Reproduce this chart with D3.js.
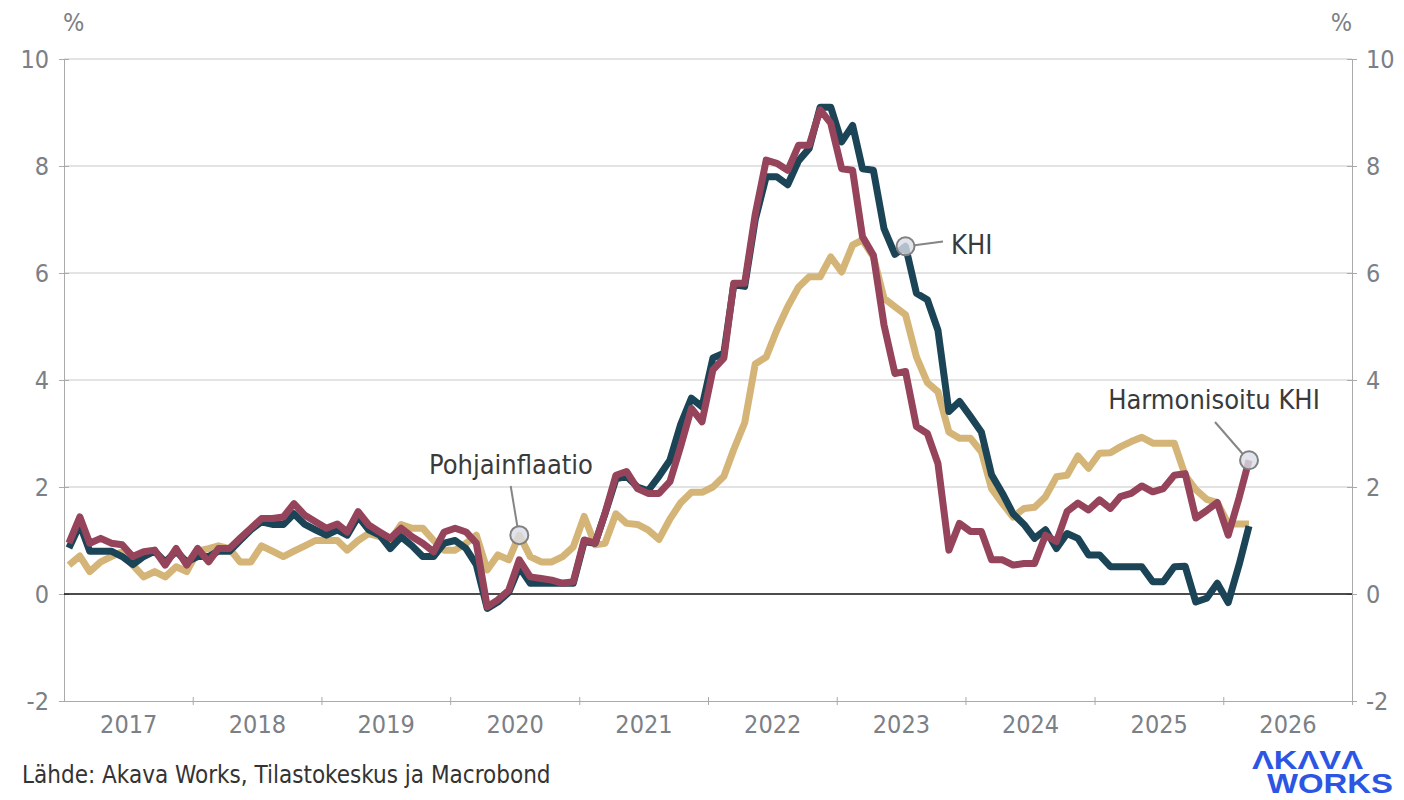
<!DOCTYPE html>
<meta charset="utf-8">
<script src="https://d3js.org/d3.v7.min.js"></script>
<style>
  body { margin: 0; background: #fff; }
  text { font-family: "DejaVu Sans Condensed", "DejaVu Sans", sans-serif; font-stretch: condensed; }
</style>
<div id="chart"></div>
<script>

// monthly series, Jan 2017 ... Mar 2026 (annual change, %)
const khi = [
  0.86, 1.3, 0.8, 0.8, 0.8, 0.7, 0.55, 0.7, 0.8, 0.6, 0.8, 0.6,
  0.7, 0.7, 0.8, 0.8, 1.0, 1.2, 1.35, 1.3, 1.3, 1.5, 1.3, 1.2,
  1.1, 1.2, 1.1, 1.45, 1.2, 1.1, 0.85, 1.07, 0.9, 0.7, 0.7, 0.95,
  1.0, 0.85, 0.55, -0.27, -0.15, 0.03, 0.5, 0.2, 0.2, 0.2, 0.2, 0.2,
  0.98, 0.95, 1.5, 2.15, 2.2, 2.0, 1.93, 2.2, 2.5, 3.16, 3.66, 3.5,
  4.41, 4.5, 5.78, 5.75, 7.0, 7.8, 7.8, 7.65, 8.1, 8.33, 9.1, 9.1,
  8.45, 8.76, 7.95, 7.92, 6.83, 6.35, 6.5, 5.62, 5.5, 4.93, 3.41, 3.6,
  3.32, 3.03, 2.23, 1.88, 1.5, 1.3, 1.04, 1.2, 0.85, 1.13, 1.04, 0.73,
  0.73, 0.51, 0.51, 0.51, 0.51, 0.23, 0.23, 0.51, 0.52, -0.15, -0.08, 0.2,
  -0.16, 0.55, 1.27
];
const hicp = [
  0.95, 1.44, 0.95, 1.04, 0.95, 0.92, 0.7, 0.79, 0.82, 0.54, 0.85, 0.54,
  0.85, 0.6, 0.85, 0.85, 1.04, 1.23, 1.41, 1.41, 1.44, 1.69, 1.47, 1.35,
  1.23, 1.31, 1.16, 1.54, 1.29, 1.16, 1.04, 1.23, 1.07, 0.95, 0.79, 1.16,
  1.23, 1.16, 0.95, -0.24, -0.11, 0.07, 0.64, 0.32, 0.29, 0.26, 0.2, 0.23,
  1.01, 0.95, 1.51, 2.22, 2.29, 1.97, 1.88, 1.88, 2.1, 2.75, 3.47, 3.22,
  4.19, 4.41, 5.81, 5.81, 7.1, 8.11, 8.05, 7.92, 8.39, 8.39, 9.05, 8.8,
  7.95, 7.92, 6.68, 6.33, 5.03, 4.12, 4.16, 3.13, 3.0, 2.44, 0.82, 1.32,
  1.17, 1.17, 0.64, 0.64, 0.54, 0.57, 0.57, 1.1, 0.98, 1.54, 1.7, 1.57,
  1.76, 1.6, 1.82, 1.88, 2.02, 1.91, 1.97, 2.22, 2.25, 1.42, 1.56, 1.71,
  1.1, 1.8, 2.5
];
const core = [
  0.54, 0.71, 0.42, 0.6, 0.7, 0.79, 0.54, 0.32, 0.42, 0.32, 0.51, 0.42,
  0.8, 0.85, 0.9, 0.85, 0.6, 0.6, 0.9, 0.8, 0.7, 0.8, 0.9, 1.0,
  1.0, 1.0, 0.82, 1.0, 1.13, 1.07, 1.0, 1.3, 1.23, 1.23, 1.0, 0.82,
  0.82, 0.95, 1.1, 0.45, 0.73, 0.64, 1.1, 0.7, 0.6, 0.6, 0.7, 0.88,
  1.45, 0.92, 0.95, 1.5, 1.32, 1.3, 1.2, 1.02, 1.4, 1.7, 1.9, 1.9,
  2.0, 2.2, 2.7, 3.2, 4.3, 4.43, 4.93, 5.37, 5.74, 5.93, 5.93, 6.3,
  6.02, 6.52, 6.62, 6.3, 5.53, 5.37, 5.22, 4.43, 3.95, 3.78, 3.03, 2.91,
  2.91, 2.66, 1.97, 1.69, 1.44, 1.6, 1.62, 1.82, 2.19, 2.22, 2.58, 2.35,
  2.63, 2.64, 2.75, 2.85, 2.93, 2.82, 2.82, 2.82, 2.22, 1.95, 1.77, 1.71,
  1.31, 1.31, 1.31
];

const years = [2017, 2018, 2019, 2020, 2021, 2022, 2023, 2024, 2025, 2026];
const yTicks = [-2, 0, 2, 4, 6, 8, 10];

// labelled points: series, month index, label
const notes = [
  {name: "Pohjainflaatio", values: core, i: 42},
  {name: "KHI", values: khi, i: 78},
  {name: "Harmonisoitu KHI", values: hicp, i: 110}
];

const W = 1404, H = 800;
const plotL = 64, plotR = 1352, plotT = 59, plotB = 701;
const tickColor = "#7b8086", axisColor = "#aaaaaa";

const svg = d3.select("#chart").append("svg")
  .attr("width", W).attr("height", H);

const x = d3.scaleTime()
  .domain([new Date(2017, 0, 1), new Date(2027, 0, 1)])
  .range([plotL, plotR]);
const y = d3.scaleLinear().domain([-2, 10]).range([plotB, plotT]);

const month = i => new Date(2017, i, 15);

// grid
svg.append("g").selectAll("line")
  .data(yTicks.filter(d => d > 0))
  .join("line")
    .attr("x1", plotL).attr("x2", plotR)
    .attr("y1", d => y(d)).attr("y2", d => y(d))
    .attr("stroke", "#c8c8c8").attr("stroke-width", 1);

// y axes (plain hyphen for negatives, like the original)
const yl = svg.append("g").attr("transform", `translate(${plotL},0)`)
  .call(d3.axisLeft(y).tickValues(yTicks).tickFormat(d => String(d))
    .tickSize(5).tickSizeOuter(0).tickPadding(10));
const yr = svg.append("g").attr("transform", `translate(${plotR},0)`)
  .call(d3.axisRight(y).tickValues(yTicks).tickFormat(d => String(d))
    .tickSize(5).tickSizeOuter(0).tickPadding(9));
yl.selectAll(".tick line").attr("x1", 5);
yr.selectAll(".tick line").attr("x1", -5);

// x axis: boundary ticks + year labels in the middle
const xa = svg.append("g").attr("transform", `translate(0,${plotB})`)
  .call(d3.axisBottom(x).tickValues(years.slice(1).map(d => new Date(d, 0, 1)).concat([new Date(2027, 0, 1)]))
    .tickSize(4).tickSizeOuter(0).tickFormat(""));
xa.selectAll(".tick line").attr("y1", -4);
svg.append("g").attr("transform", `translate(0,${plotB})`)
  .call(d3.axisBottom(x).tickValues(years.map(d => new Date(d, 6, 2)))
    .tickSize(0).tickPadding(14).tickFormat(d3.timeFormat("%Y")))
  .call(g => g.select(".domain").remove());

[yl, yr, xa].forEach(g => {
  g.select(".domain").attr("stroke", axisColor);
  g.selectAll(".tick line").attr("stroke", axisColor);
});
svg.selectAll(".tick text")
  .attr("fill", tickColor)
  .style("font-size", "25px");

// zero line
svg.append("line")
  .attr("x1", plotL).attr("x2", plotR)
  .attr("y1", y(0)).attr("y2", y(0))
  .attr("stroke", "#111").attr("stroke-width", 1.5);

// unit labels
svg.append("text").attr("x", plotL - 1).attr("y", 31).text("%")
  .attr("fill", tickColor).style("font-size", "25px");
svg.append("text").attr("x", plotR).attr("y", 31).text("%")
  .attr("text-anchor", "end").attr("fill", tickColor).style("font-size", "25px");

// lines
const line = d3.line()
  .x((d, i) => x(month(i)))
  .y(d => y(d));

const series = [
  {values: core, color: "#d4b577"},
  {values: khi, color: "#1b4557"},
  {values: hicp, color: "#95445b"}
];
svg.append("g").selectAll("path")
  .data(series)
  .join("path")
    .attr("d", d => line(d.values))
    .attr("fill", "none")
    .attr("stroke", d => d.color)
    .attr("stroke-width", 7)
    .attr("stroke-linejoin", "round");

// annotations
const labelPos = {
  "Pohjainflaatio": {lx: 511, ly: 474, anchor: "middle", from: [510.7, 486], to: [-2, -9]},
  "KHI": {lx: 951, ly: 254, anchor: "start", from: [943, 241.5], to: [9, -1]},
  "Harmonisoitu KHI": {lx: 1214, ly: 409, anchor: "middle", from: [1215, 422], to: [-6, -6]}
};

const ann = svg.append("g");
notes.forEach(n => {
  const cx = x(month(n.i)), cy = y(n.values[n.i]);
  const p = labelPos[n.name];
  ann.append("line")
    .attr("x1", p.from[0]).attr("y1", p.from[1])
    .attr("x2", cx + p.to[0]).attr("y2", cy + p.to[1])
    .attr("stroke", "#858585").attr("stroke-width", 2);
  ann.append("circle")
    .attr("cx", cx).attr("cy", cy).attr("r", 9)
    .attr("fill", "#d9dde7").attr("fill-opacity", 0.8)
    .attr("stroke", "#808080").attr("stroke-width", 2);
  ann.append("text")
    .attr("x", p.lx).attr("y", p.ly)
    .attr("text-anchor", p.anchor)
    .attr("fill", "#3a3a3a")
    .style("font-size", "27px")
    .text(n.name);
});

// source
svg.append("text")
  .attr("x", 22).attr("y", 783)
  .attr("fill", "#333")
  .style("font-size", "24px")
  .text("Lähde: Akava Works, Tilastokeskus ja Macrobond");

// logo
const logo = svg.append("g").attr("fill", "#2c55e4");
logo.append("text").attr("x", 1252).attr("y", 769)
  .attr("textLength", 111).attr("lengthAdjust", "spacingAndGlyphs")
  .style("font-family", "'Liberation Sans', Arial, sans-serif").style("font-weight", 700)
  .style("font-stretch", "normal").style("font-size", "26px")
  .text("ΛKΛVΛ");
logo.append("text").attr("x", 1267).attr("y", 793)
  .attr("textLength", 126).attr("lengthAdjust", "spacingAndGlyphs")
  .style("font-family", "'Liberation Sans', Arial, sans-serif").style("font-weight", 700)
  .style("font-stretch", "normal").style("font-size", "28px")
  .text("WORKS");

</script>
